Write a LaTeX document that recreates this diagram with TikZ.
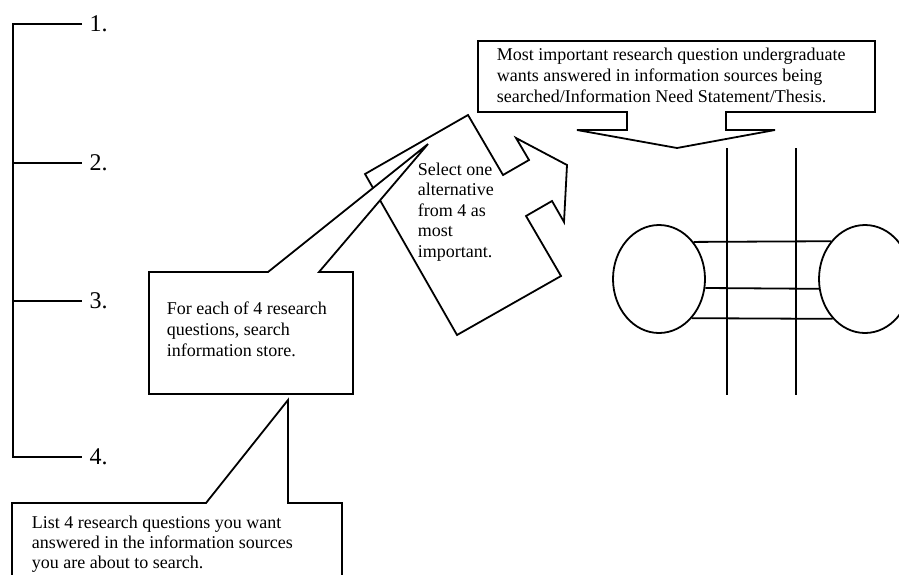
\documentclass[tikz,border=0pt]{standalone}
\usepackage{fontspec}
\setmainfont{Liberation Serif}
\usetikzlibrary{shapes.geometric}

\begin{document}
\begin{tikzpicture}[x=1pt,y=-1pt,line width=1.8pt,line join=miter,
    callout/.style={draw,fill=white},
    txt/.style={anchor=base west,align=left,inner sep=0pt,font=\fontsize{18}{21}\selectfont},
    num/.style={anchor=west,inner sep=0pt,xshift=7pt,font=\fontsize{24}{24}\selectfont},
    blob/.style={draw,ellipse,minimum width=92pt,minimum height=108pt,inner sep=0pt}]
      \useasboundingbox (0,0) rectangle (899,574);
      \clip (0,0) rectangle (899,574);
      % numbered bracket
      \draw[line width=1.4pt] (82,24)node[num] (n1) {1.} -- (13,24) -- (13,457) -- (82,457)node[num] (n4) {4.};
      \draw[line width=1.4pt] (13,163) -- (82,163)node[num] (n2) {2.};
      \draw[line width=1.4pt] (13,301) -- (82,301)node[num] (n3) {3.};
      % select one, with its arrow
      \draw[callout] (365,174) -- (468,115) -- (503,175) -- (529,160) -- (516,138) -- (567,165)
        -- (564,222) -- (552,201) -- (526,216) -- (561,276) -- (457,335) -- cycle;
      % for each, tail up to the arrow
      \draw[callout] (149,272) -- (268,272) -- (428,144) -- (319,272) -- (353,272) -- (353,394) -- (149,394) -- cycle;
      % list, tail up to for each
      \draw[callout] (12,503) -- (206,503) -- (288,400) -- (288,503) -- (342,503) -- (342,600) -- (12,600) -- cycle;
      % top statement, tail down
      \draw[callout] (478,41) -- (875,41) -- (875,112) -- (726,112) -- (726,130) -- (775,130) -- (677,148)
        -- (577,130) -- (627,130) -- (627,112) -- (478,112) -- cycle;
      % texts sit on the baseline of their last line
      \node[txt] (thesis) at (496,102) {Most important research question undergraduate\\wants answered in information sources being\\searched/Information Need Statement/Thesis.};
      \node[txt,font=\fontsize{18}{20.5}\selectfont] (select) at (417,257) {Select one\\alternative\\from 4 as\\most\\important.};
      \node[txt] (foreach) at (166,356) {For each of 4 research\\questions, search\\information store.};
      \node[txt,font=\fontsize{18}{20}\selectfont] (list) at (31,568) {List 4 research questions you want\\answered in the information sources\\you are about to search.};
      % the two sources and the lines between them
      \draw (727,148) -- (727,395);
      \draw (796,148) -- (796,395);
      \node[blob] (left) at (659,279) {};
      \node[blob] (right) at (865,279) {};
      \draw (left.47.8) -- (right.132.2);
      \draw (left.-11.2) -- (right.-168.8);
      \draw (left.-50.8) -- (right.-129.2);
    \end{tikzpicture}
\end{document}
